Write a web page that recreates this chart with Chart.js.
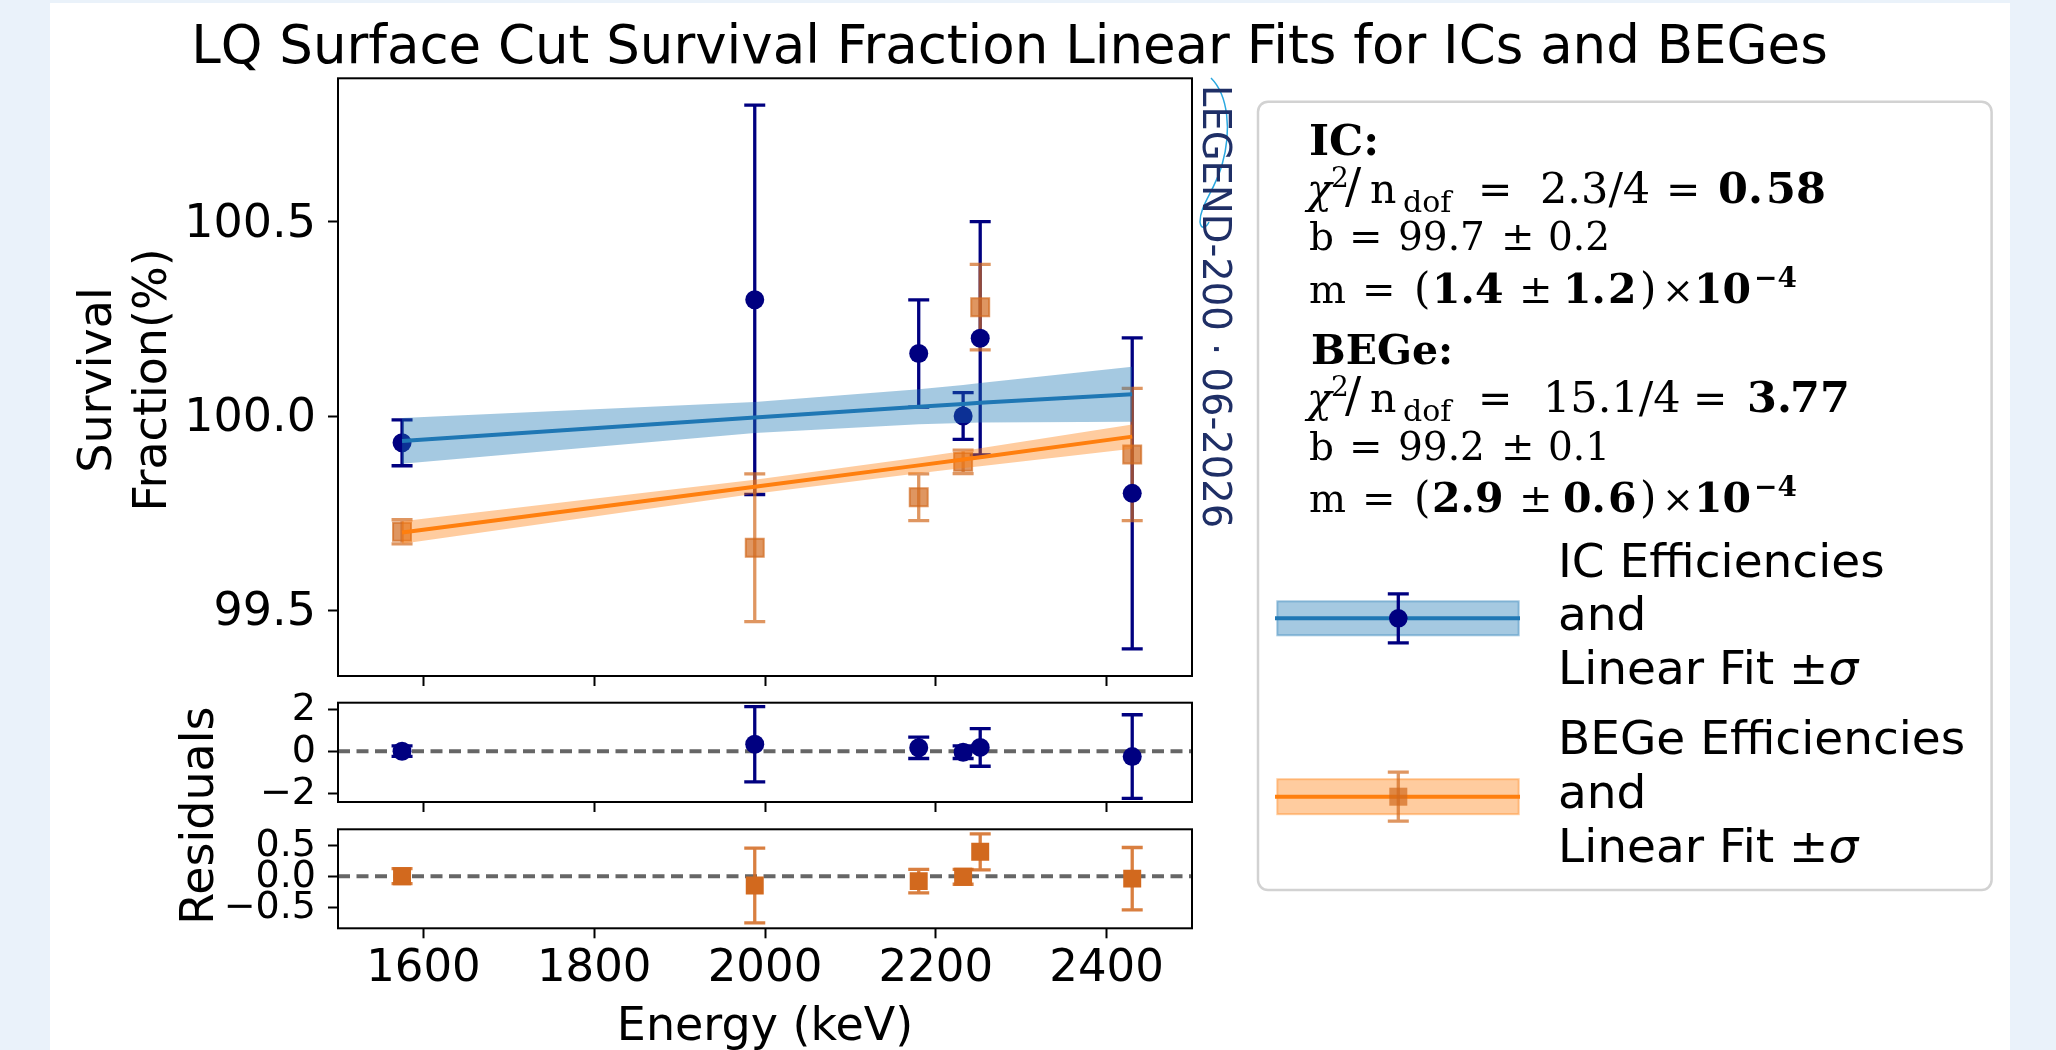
<!DOCTYPE html>
<html>
<head>
<meta charset="utf-8">
<title>LQ Surface Cut Survival Fraction</title>
<script src="https://cdn.jsdelivr.net/npm/chart.js@4.4.1/dist/chart.umd.min.js"></script>
<style>
  html, body { margin: 0; padding: 0; }
  body { width: 2056px; height: 1050px; background: #eaf2fa; position: relative; overflow: hidden; }
  #card { position: absolute; left: 50px; top: 3px; width: 1960px; height: 1047px; background: #fff; }
  canvas { position: absolute; }
  #overlay { position: absolute; left: 0; top: 0; pointer-events: none; }
  #overlay text { white-space: pre; }
</style>
</head>
<body>
<div id="card"></div>
<canvas id="mainChart" width="1060" height="630" style="left:150px;top:60px"></canvas>
<canvas id="icResChart" width="1060" height="126" style="left:150px;top:690px"></canvas>
<canvas id="begeResChart" width="1060" height="184" style="left:150px;top:816px"></canvas>
<svg id="overlay" width="2056" height="1050" xmlns="http://www.w3.org/2000/svg"></svg>
<script>
// measured values (energy in keV, survival fraction in %)
var energies = [1575, 1988, 2180, 2232, 2252, 2430];
var icValues = [99.931, 100.299, 100.161, 100.0, 100.2, 99.801];
var icErrors = [0.059, 0.501, 0.138, 0.06, 0.3, 0.4];
var begeValues = [99.702, 99.661, 99.791, 99.882, 100.28, 99.901];
var begeErrors = [0.031, 0.19, 0.06, 0.03, 0.11, 0.17];

// linear fits and their +-sigma bands, evaluated at the data energies
var icFit = [99.936, 99.996, 100.024, 100.031, 100.034, 100.056];
var icBandLow = [99.877, 99.956, 99.979, 99.982, 99.983, 99.985];
var icBandHigh = [99.995, 100.036, 100.069, 100.08, 100.085, 100.127];
var begeFit = [99.7, 99.818, 99.873, 99.888, 99.894, 99.947];
var begeBandLow = [99.671, 99.8, 99.853, 99.866, 99.871, 99.916];
var begeBandHigh = [99.729, 99.836, 99.893, 99.91, 99.917, 99.978];

// residuals (data - fit)
var icResiduals = [0.0, 0.33, 0.16, -0.05, 0.18, -0.26];
var icResidualErrors = [0.25, 1.8, 0.51, 0.3, 0.9, 2.0];
var begeResiduals = [0.0, -0.15, -0.08, -0.01, 0.39, -0.04];
var begeResidualErrors = [0.12, 0.6, 0.19, 0.12, 0.29, 0.5];

// tick labels
var energyTicks = [1600, 1800, 2000, 2200, 2400];
var survivalTicks = [99.5, 100.0, 100.5];
var icResidualTicks = [-2, 0, 2];
var begeResidualTicks = [-0.5, 0.0, 0.5];

var colors = {
  icPoint: "#000080",
  icLine: "#1f77b4",
  icBand: "rgba(31,119,180,0.4)",
  begePoint: "rgba(210,105,30,0.7)",
  begeSolid: "#d2691e",
  begeLine: "#ff7f0e",
  begeBand: "rgba(255,127,14,0.4)",
  zero: "#666666",
};

function pairs(xs, ys) {
  return xs.map(function (x, i) {
    return { x: x, y: ys[i] };
  });
}

function minusFormat(digits) {
  return function (value) {
    var s = Math.abs(value).toFixed(digits);
    return value < 0 ? "\u2212" + s : s;
  };
}

function fixedTicks(list) {
  return function (axis) {
    axis.ticks = list.map(function (v) {
      return { value: v };
    });
  };
}

function noPadding(s) {
  s.paddingTop = 0;
  s.paddingBottom = 0;
  s.paddingLeft = 0;
  s.paddingRight = 0;
}

// error bars + optional dashed zero line, drawn below the markers
var errorBarPlugin = {
  id: "errorBars",
  beforeDatasetsDraw: function (chart, args, opts) {
    var ctx = chart.ctx;
    var xs = chart.scales.x;
    var ys = chart.scales.y;
    var area = chart.chartArea;
    ctx.save();
    ctx.beginPath();
    ctx.rect(area.left, area.top, area.right - area.left, area.bottom - area.top);
    ctx.clip();
    if (opts.zeroLine) {
      var y0 = ys.getPixelForValue(0);
      ctx.setLineDash([12, 6.5]);
      ctx.strokeStyle = colors.zero;
      ctx.lineWidth = 4;
      ctx.beginPath();
      ctx.moveTo(area.left, y0);
      ctx.lineTo(area.right, y0);
      ctx.stroke();
      ctx.setLineDash([]);
    }
    (opts.series || []).forEach(function (s) {
      ctx.strokeStyle = s.color;
      ctx.lineWidth = 3.3;
      s.x.forEach(function (xv, i) {
        var px = xs.getPixelForValue(xv);
        var top = ys.getPixelForValue(s.y[i] + s.err[i]);
        var bot = ys.getPixelForValue(s.y[i] - s.err[i]);
        ctx.beginPath();
        ctx.moveTo(px, top);
        ctx.lineTo(px, bot);
        ctx.moveTo(px - 10.5, top);
        ctx.lineTo(px + 10.5, top);
        ctx.moveTo(px - 10.5, bot);
        ctx.lineTo(px + 10.5, bot);
        ctx.stroke();
      });
    });
    ctx.restore();
  },
};

var framePlugin = {
  id: "frame",
  afterDatasetsDraw: function (chart) {
    var a = chart.chartArea;
    var ctx = chart.ctx;
    ctx.save();
    ctx.strokeStyle = "#000";
    ctx.lineWidth = 2;
    ctx.strokeRect(a.left, a.top, a.right - a.left, a.bottom - a.top);
    ctx.restore();
  },
};

function gridOpts() {
  return {
    drawOnChartArea: false,
    drawTicks: true,
    tickLength: 10,
    tickWidth: 2,
    tickColor: "#000",
  };
}

function buildScales(cfg) {
  return {
    x: {
      type: "linear",
      min: 1500,
      max: 2500,
      afterBuildTicks: fixedTicks(energyTicks),
      afterFit: function (s) {
        s.height = cfg.xHeight;
        noPadding(s);
      },
      border: { display: false },
      grid: gridOpts(),
      ticks: {
        display: cfg.showX,
        autoSkip: false,
        color: "#000",
        padding: 4,
        maxRotation: 0,
        font: { size: 45 },
        callback: function (v) {
          return String(v);
        },
      },
    },
    y: {
      type: "linear",
      min: cfg.yMin,
      max: cfg.yMax,
      afterBuildTicks: fixedTicks(cfg.yTicks),
      afterFit: function (s) {
        s.width = 188;
        noPadding(s);
      },
      border: { display: false },
      grid: gridOpts(),
      ticks: {
        autoSkip: false,
        color: "#000",
        padding: 12,
        labelOffset: cfg.labelOffset,
        font: { size: cfg.tickSize },
        callback: cfg.format,
      },
    },
  };
}

function baseOptions(padTop, scales, plugins) {
  return {
    responsive: false,
    animation: false,
    events: [],
    layout: { autoPadding: false, padding: { top: padTop, right: 18, bottom: 0, left: 0 } },
    plugins: Object.assign({ legend: { display: false }, tooltip: { enabled: false } }, plugins),
    scales: scales,
  };
}

function lineSet(data, color, order) {
  return {
    type: "line",
    data: data,
    borderColor: color,
    borderWidth: 4,
    pointRadius: 0,
    pointHoverRadius: 0,
    fill: false,
    order: order,
  };
}

function bandSet(data, fillTarget, color, order) {
  return {
    type: "line",
    data: data,
    borderColor: "transparent",
    borderWidth: 0,
    pointRadius: 0,
    pointHoverRadius: 0,
    backgroundColor: color,
    fill: fillTarget,
    order: order,
  };
}

Chart.defaults.font.family = "'DejaVu Sans', sans-serif";

new Chart(document.getElementById("mainChart"), {
  type: "scatter",
  data: {
    datasets: [
      lineSet(pairs(energies, begeFit), colors.begeLine, 0),
      bandSet(pairs(energies, begeBandHigh), 2, colors.begeBand, 1),
      bandSet(pairs(energies, begeBandLow), false, colors.begeBand, 2),
      lineSet(pairs(energies, icFit), colors.icLine, 3),
      bandSet(pairs(energies, icBandHigh), 5, colors.icBand, 4),
      bandSet(pairs(energies, icBandLow), false, colors.icBand, 5),
      {
        label: "BEGe Efficiencies",
        data: pairs(energies, begeValues),
        pointStyle: "rect",
        pointRadius: 12.7,
        pointHoverRadius: 12.7,
        backgroundColor: colors.begePoint,
        borderColor: colors.begePoint,
        borderWidth: 2,
        order: 6,
      },
      {
        label: "IC Efficiencies",
        data: pairs(energies, icValues),
        pointStyle: "circle",
        pointRadius: 9.5,
        pointHoverRadius: 9.5,
        backgroundColor: colors.icPoint,
        borderWidth: 0,
        order: 7,
      },
    ],
  },
  options: baseOptions(
    18.3,
    buildScales({
      yMin: 99.331,
      yMax: 100.869,
      yTicks: survivalTicks,
      format: minusFormat(1),
      tickSize: 46,
      labelOffset: 3,
      showX: false,
      xHeight: 14,
    }),
    {
      errorBars: {
        series: [
          { x: energies, y: icValues, err: icErrors, color: colors.icPoint },
          { x: energies, y: begeValues, err: begeErrors, color: colors.begePoint },
        ],
      },
    }
  ),
  plugins: [errorBarPlugin, framePlugin],
});

new Chart(document.getElementById("icResChart"), {
  type: "scatter",
  data: {
    datasets: [
      {
        label: "IC residuals",
        data: pairs(energies, icResiduals),
        pointStyle: "circle",
        pointRadius: 9.5,
        pointHoverRadius: 9.5,
        backgroundColor: colors.icPoint,
        borderWidth: 0,
      },
    ],
  },
  options: baseOptions(
    12.7,
    buildScales({
      yMin: -2.43,
      yMax: 2.317,
      yTicks: icResidualTicks,
      format: minusFormat(0),
      tickSize: 38,
      labelOffset: 1,
      showX: false,
      xHeight: 14,
    }),
    {
      errorBars: {
        zeroLine: true,
        series: [{ x: energies, y: icResiduals, err: icResidualErrors, color: colors.icPoint }],
      },
    }
  ),
  plugins: [errorBarPlugin, framePlugin],
});

new Chart(document.getElementById("begeResChart"), {
  type: "scatter",
  data: {
    datasets: [
      {
        label: "BEGe residuals",
        data: pairs(energies, begeResiduals),
        pointStyle: "rect",
        pointRadius: 12.7,
        pointHoverRadius: 12.7,
        backgroundColor: colors.begeSolid,
        borderWidth: 0,
      },
    ],
  },
  options: baseOptions(
    13.3,
    buildScales({
      yMin: -0.837,
      yMax: 0.752,
      yTicks: begeResidualTicks,
      format: minusFormat(1),
      tickSize: 38,
      labelOffset: 1,
      showX: true,
      xHeight: 71.7,
    }),
    {
      errorBars: {
        zeroLine: true,
        series: [{ x: energies, y: begeResiduals, err: begeResidualErrors, color: "rgba(210,105,30,0.85)" }],
      },
    }
  ),
  plugins: [errorBarPlugin, framePlugin],
});

// ---- text, legend box and watermark (SVG overlay) ----
var NS = "http://www.w3.org/2000/svg";
var svg = document.getElementById("overlay");

function el(name, attrs, parent) {
  var node = document.createElementNS(NS, name);
  Object.keys(attrs).forEach(function (k) {
    node.setAttribute(k, attrs[k]);
  });
  (parent || svg).appendChild(node);
  return node;
}

function txt(str, attrs) {
  var node = el("text", Object.assign({ fill: "#000", "font-family": "DejaVu Sans" }, attrs));
  node.textContent = str;
  return node;
}

txt("LQ Surface Cut Survival Fraction Linear Fits for ICs and BEGes", {
  x: 1009.5, y: 63, "font-size": 53, "text-anchor": "middle",
});
txt("Survival", { transform: "translate(111,380) rotate(-90)", "font-size": 46, "text-anchor": "middle" });
txt("Fraction(%)", { transform: "translate(166,380) rotate(-90)", "font-size": 46, "text-anchor": "middle" });
txt("Residuals", { transform: "translate(213,815.6) rotate(-90)", "font-size": 46, "text-anchor": "middle" });
txt("Energy (keV)", { x: 765, y: 1040, "font-size": 46, "text-anchor": "middle" });

// watermark
el("path", {
  d: "M1211,78 C1228,95 1232,130 1222,165 C1214,192 1200,205 1200,222 C1201,230 1206,228 1209,222",
  fill: "none", stroke: "#2aa8e0", "stroke-width": 1.5,
});
txt("LEGEND-200 \u00b7 06-2026", {
  transform: "translate(1203,85) rotate(90)", "font-size": 38.5, fill: "#1f2f66",
});

// legend frame
el("rect", {
  x: 1258, y: 101.7, width: 733.6, height: 788.3, rx: 10, ry: 10,
  fill: "#fff", stroke: "#d2d2d2", "stroke-width": 2.5,
});

// fit summary, each piece placed on its own
function mathLine(y, pieces) {
  var node = el("text", { y: y, fill: "#000", "font-family": "DejaVu Serif" });
  pieces.forEach(function (p) {
    var t = el("tspan", { x: p[1], y: y + (p[3] || 0), "font-size": p[2] }, node);
    if (p[4] === "b") t.setAttribute("font-weight", "bold");
    if (p[4] === "i") t.setAttribute("font-style", "italic");
    t.textContent = p[0];
  });
}

function chiLine(y, ratio, ratioX, eqX, bold1, bold1X, bold2, bold2X) {
  mathLine(y, [
    ["\u03c7", 1307, 41, 0, "i"],
    ["2", 1331, 28, -16],
    ["/", 1345, 48],
    ["n", 1370, 41],
    ["dof", 1403, 30, 9],
    ["=", 1478, 41],
    [ratio, ratioX, 43],
    ["=", eqX, 41],
    [bold1, bold1X, 43, 0, "b"],
    [bold2, bold2X, 43, 0, "b"],
  ]);
}

function bLine(y, value, err) {
  mathLine(y, [
    ["b", 1309, 39],
    ["=", 1349, 40],
    [value, 1398, 39],
    ["\u00b1", 1501, 40],
    [err, 1548, 39],
  ]);
}

function mLine(y, a1, a2, b1, b2) {
  mathLine(y, [
    ["m", 1309, 39],
    ["=", 1362, 40],
    ["(", 1414, 42],
    [a1, 1432, 41, 0, "b"],
    [a2, 1475, 41, 0, "b"],
    ["\u00b1", 1519, 40],
    [b1, 1563, 41, 0, "b"],
    [b2, 1608, 41, 0, "b"],
    [")", 1640, 42],
    ["\u00d7", 1662, 38],
    ["10", 1694, 41, 0, "b"],
    ["\u22124", 1754, 28, -16, "b"],
  ]);
}

mathLine(155, [["IC:", 1309, 43, 0, "b"]]);
chiLine(202.7, "2.3/4", 1540, 1666, "0.", 1718, "58", 1766);
bLine(250, "99.7", "0.2");
mLine(303, "1.", "4", "1.", "2");
mathLine(364, [["BEGe:", 1311, 41, 0, "b"]]);
chiLine(411.7, "15.1/4", 1543, 1693, "3.", 1747, "77", 1790);
bLine(460, "99.2", "0.1");
mLine(512, "2.", "9", "0.", "6");

// legend handles: band, fit line, marker with error bar
function handle(cy, bandH, band, line, pointColor, square) {
  el("rect", {
    x: 1277.3, y: cy - bandH / 2, width: 241.4, height: bandH,
    fill: band, stroke: band, "stroke-width": 2,
  });
  el("line", { x1: 1275, y1: cy, x2: 1520, y2: cy, stroke: line, "stroke-width": 4 });
  var top = cy - 24.5;
  var bot = cy + 24.5;
  el("path", {
    d: "M1398.3," + top + "V" + bot + "M1387.8," + top + "H1408.8M1387.8," + bot + "H1408.8",
    stroke: pointColor, "stroke-width": 3.3, fill: "none",
  });
  if (square) {
    el("rect", { x: 1389.3, y: cy - 9, width: 18, height: 18, fill: pointColor });
  } else {
    el("circle", { cx: 1398.3, cy: cy, r: 9.3, fill: pointColor });
  }
}

handle(618.3, 34, colors.icBand, colors.icLine, colors.icPoint, false);
handle(796.7, 35, colors.begeBand, colors.begeLine, colors.begePoint, true);

function legendLabel(baselines, first) {
  var lines = [first, "and", "Linear Fit \u00b1"];
  lines.forEach(function (s, i) {
    var node = txt(s, { x: 1558, y: baselines[i], "font-size": 47 });
    if (i === 2) {
      var sig = el("tspan", { "font-style": "italic" }, node);
      sig.textContent = "\u03c3";
    }
  });
}

legendLabel([576.5, 630, 683.5], "IC Efficiencies");
legendLabel([753.5, 808, 861.5], "BEGe Efficiencies");
</script>
</body>
</html>
